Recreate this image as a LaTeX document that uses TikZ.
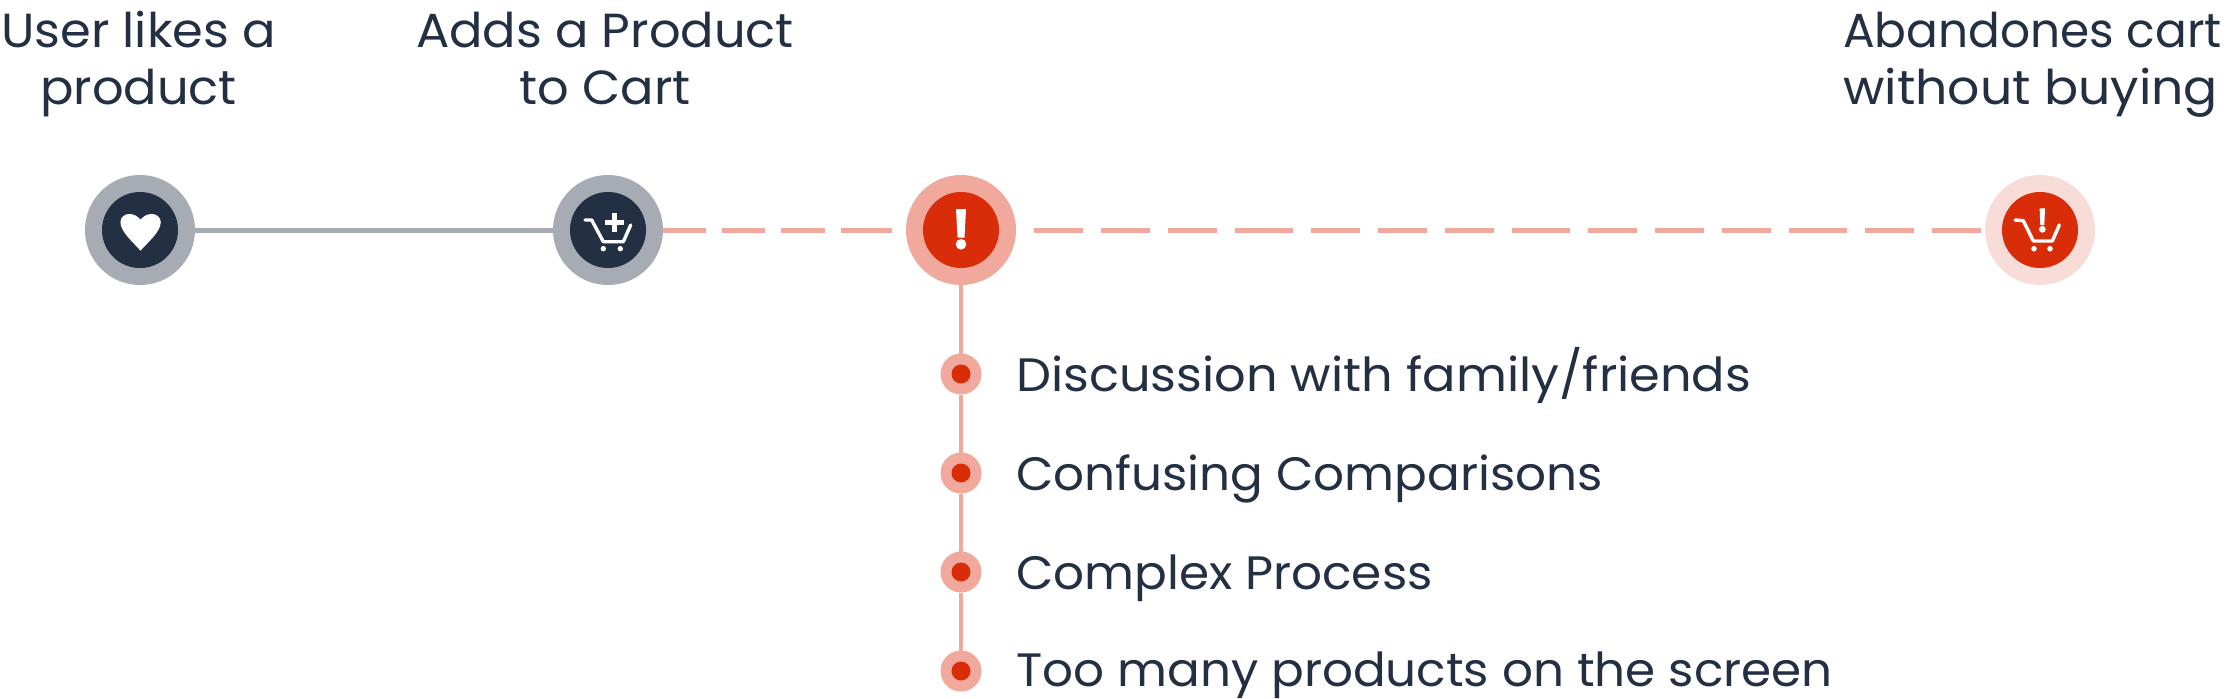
\documentclass[tikz,border=0pt]{standalone}
\usepackage{graphicx}
\usepackage{fontspec}
\setmainfont[FakeStretch=1.035]{Poppins}
\definecolor{ink}{HTML}{232F42}
\definecolor{greyring}{HTML}{A7ABB3}
\definecolor{salmon}{HTML}{F0A99C}
\definecolor{redcore}{HTML}{D92C08}
\definecolor{palering}{HTML}{F8DCD7}
\tikzset{
  ring/.style={circle,minimum size=110bp,inner sep=0pt,outer sep=0pt},
  core/.style={circle,minimum size=76bp,inner sep=0pt,outer sep=0pt},
  dotout/.style={circle,fill=salmon,minimum size=41bp,inner sep=0pt,outer sep=0pt},
  dotin/.style={circle,fill=redcore,minimum size=19bp,inner sep=0pt,outer sep=0pt},
  title/.style={font=\fontsize{48}{57.8}\selectfont,text=ink,inner sep=0pt,anchor=base},
  item/.style={font=\fontsize{47}{54}\selectfont,text=ink,anchor=base west,inner sep=0pt},
  carticon/.style={draw=white,line width=3.4bp,line cap=round,line join=round},
  solidlink/.style={draw=greyring,line width=5bp},
  dashfirst/.style={draw=salmon,line width=5bp,dash pattern=on 43bp off 16bp on 43bp off 16bp on 44bp off 16bp on 51bp off 15bp},
  dashsecond/.style={draw=salmon,line width=5bp,dash pattern=on 49bp off 18bp on 49bp off 18bp on 49bp off 18bp on 58bp off 18bp},
  stem/.style={draw=salmon,line width=4.5bp}
}
\begin{document}
\begin{tikzpicture}[x=1bp,y=-1bp]
\useasboundingbox (0,0) rectangle (2232,699);
\fill[white] (0,0) rectangle (2232,699);
\node[ring,fill=greyring] (n1) at (140,230) {};
\node[ring,fill=greyring] (n2) at (608,230) {};
\node[ring,fill=salmon] (n3) at (961,230) {};
\node[ring,fill=palering] (n4) at (2040,230) {};
\node[core,fill=ink] (k1) at (n1) {};
\node[core,fill=ink] (k2) at (n2) {};
\node[core,fill=redcore] (k3) at (n3) {};
\node[core,fill=redcore] (k4) at (n4) {};
\node[dotout] (b1) at (961,374) {};
\node[dotout] (b2) at (961,473) {};
\node[dotout] (b3) at (961,572) {};
\node[dotout] (b4) at (961,671) {};
\node[dotin] (d1) at (b1) {};
\node[dotin] (d2) at (b2) {};
\node[dotin] (d3) at (b3) {};
\node[dotin] (d4) at (b4) {};
\path[solidlink] (n1) -- (n2);
\path[dashfirst] (n2.east) -- (n3.west);
\path[dashsecond] ([xshift=18bp]n3.east) -- (n4.west);
\path[stem] (n3.south) -- (b1.north);
\path[stem] (b1.south) -- (b2.north);
\path[stem] (b2.south) -- (b3.north);
\path[stem] (b3.south) -- (b4.north);
% heart
\fill[white] (140.5,250.7) .. controls (134,243) and (120.4,232) .. (120.4,222) .. controls (120.4,217) and (125,214) .. (129,214) .. controls (134,214) and (137,216) .. (140.5,219.5) .. controls (144,216) and (147,214) .. (152,214) .. controls (156,214) and (160.8,217) .. (160.8,222) .. controls (160.8,232) and (147,243) .. (140.5,250.7) -- cycle;
% add-to-cart icon
\draw[carticon] (585,220) -- (591.7,220) -- (603.3,241.7) -- (623.3,241.7) -- (630.7,225);
\fill[white] (603.3,248.7) circle (2.7);
\fill[white] (620.3,248.7) circle (2.7);
\fill[white] (611.5,212.8) rectangle (616.5,231.8);
\fill[white] (604.5,219.8) rectangle (623.5,224.8);
% exclamation icon
\fill[white] (956,209) -- (966,209) -- (964.5,237.5) -- (957.5,237.5) -- cycle;
\fill[white] (961,244.3) circle (5.3);
% abandoned-cart icon
\draw[carticon] (2015,220) -- (2023.3,220.7) -- (2033.3,241) -- (2052.3,241) -- (2059.3,225);
\fill[white] (2034,248.7) circle (2.8);
\fill[white] (2050,248.7) circle (2.8);
\fill[white] (2039.6,208.3) -- (2045,208.3) -- (2044.3,225) -- (2040.3,225) -- cycle;
\fill[white] (2042.3,229.3) circle (3.4);
% labels
\node[title,align=center] (t1) at (138.5,105) {User likes a\\product};
\node[title,align=center] (t2) at (605,105) {Adds a Product\\to Cart};
\node[title,align=left,anchor=base west] (t4) at (1843,105) {\scalebox{0.95}[1]{Abandones cart}\\\scalebox{1.02}[1]{without buying}};
\node[item] (i1) at (1016,391.7) {\scalebox{1.02}[1]{Discussion with family/friends}};
\node[item] (i2) at (1016,490) {Confusing Comparisons};
\node[item] (i3) at (1016,589) {Complex Process};
\node[item] (i4) at (1016,686.5) {Too many products on the screen};
\end{tikzpicture}
\end{document}
